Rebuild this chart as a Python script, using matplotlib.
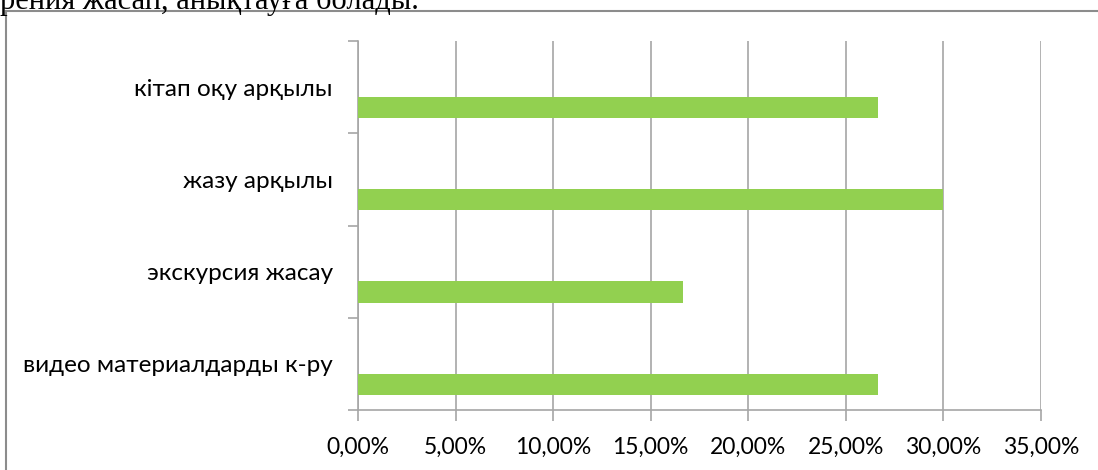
import matplotlib
matplotlib.use("Agg")
import matplotlib.pyplot as plt
from matplotlib.lines import Line2D
from matplotlib.ticker import FuncFormatter, FixedLocator

categories = ["кітап оқу арқылы", "жазу арқылы", "экскурсия жасау", "видео материалдарды к-ру"]
values = [26.67, 30.0, 16.67, 26.67]
xticks = [0, 5, 10, 15, 20, 25, 30, 35]
header_text = "рения жасап, анықтауға болады."

W, H = 1098, 470
fig = plt.figure(figsize=(W / 100, H / 100), dpi=100)
fig.patch.set_facecolor("white")

ax = fig.add_axes([358 / W, 1 - 410 / H, (1041 - 358) / W, (410 - 41) / H])

ypos = list(range(len(categories)))
ax.barh([y + 0.22 for y in ypos], values, height=0.23, color="#92D050", zorder=3)

ax.set_xlim(0, 35)
ax.set_ylim(len(categories) - 0.5, -0.5)

ax.set_xticks(xticks)
ax.xaxis.set_major_formatter(FuncFormatter(lambda v, p: f"{v:.2f}%".replace(".", ",")))
ax.xaxis.grid(True, color="#A6A6A6", linewidth=1.2, zorder=0)
ax.tick_params(axis="x", length=8, width=1.2, color="#A6A6A6", pad=11, labelsize=16.5)

ax.set_yticks(ypos)
ax.set_yticklabels(categories)
ax.yaxis.set_minor_locator(FixedLocator([i - 0.5 for i in range(len(categories) + 1)]))
ax.tick_params(axis="y", which="major", length=0, pad=18, labelsize=17.5)
ax.tick_params(axis="y", which="minor", length=7, width=1.2, color="#A6A6A6")

for lab in ax.get_xticklabels() + ax.get_yticklabels():
    lab.set_fontfamily("Lato")

for s in ["top", "right"]:
    ax.spines[s].set_visible(False)
for s in ["left", "bottom"]:
    ax.spines[s].set_color("#A6A6A6")
    ax.spines[s].set_linewidth(1.2)

# chart border
fig.add_artist(Line2D([6 / W, 6 / W], [0, 1 - 11 / H], transform=fig.transFigure, color="#8C8C8C", linewidth=1.5))
fig.add_artist(Line2D([6 / W, 1], [1 - 11 / H, 1 - 11 / H], transform=fig.transFigure, color="#8C8C8C", linewidth=1.5))

fig.text(0, 1 - 8.5 / H, header_text, fontsize=22, family="Liberation Serif", va="baseline", ha="left")

fig.savefig("out.png", dpi=100, facecolor="white")
